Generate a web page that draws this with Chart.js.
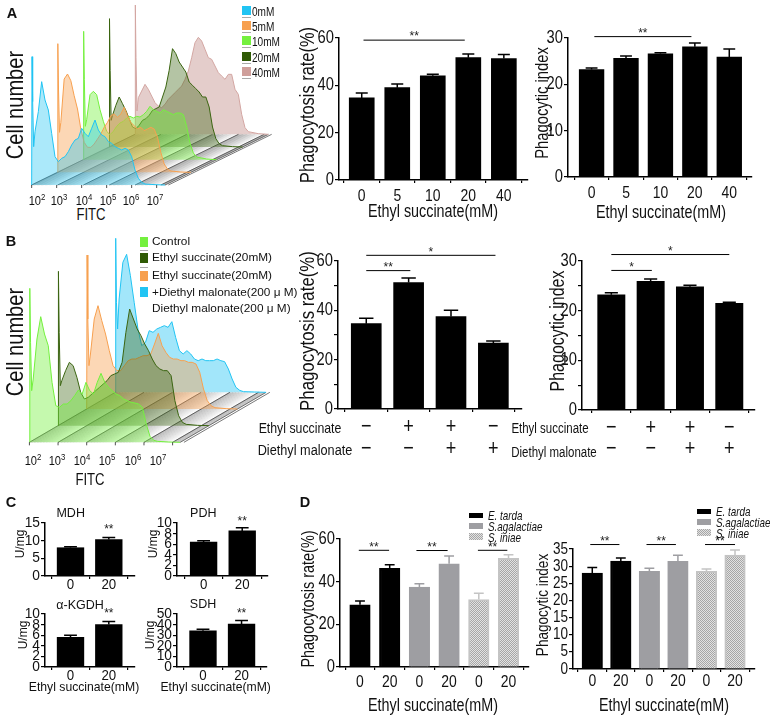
<!DOCTYPE html>
<html>
<head>
<meta charset="utf-8">
<script src="https://cdn.jsdelivr.net/npm/chart.js@4"></script>
<style>
html, body { margin: 0; padding: 0; background: #fff; }
body { position: relative; width: 770px; height: 717px; overflow: hidden; }
canvas { position: absolute; }
.t { position: absolute; white-space: nowrap; color: #111; line-height: 1; z-index: 5; }
.t sup { font-size: 70%; line-height: 0; }
.s { position: absolute; z-index: 5; }
</style>
</head>
<body>
<script>
// Panel A and B histograms: counts per channel, one list per layer
var histChannels = [0,1,3,6,10,20,30,40,50,60,70,80,90,100,110,120,130,140,150,160,170,180,190,200,210,220,230,240,250,260,270,280,290,300,310,320,330,340,370,400];

var histA0mM  = [0,385,250,115,160,220,310,255,225,155,85,70,80,85,100,120,135,140,170,155,145,170,195,165,150,145,130,125,115,110,105,110,105,85,45,20,8,3,1,0];
var histA5mM  = [0,386,250,120,150,280,295,275,230,190,130,90,75,75,85,100,115,135,150,170,175,165,175,195,170,150,140,130,135,125,130,135,130,105,60,25,10,4,1,0];
var histA10mM = [0,385,240,100,120,195,205,195,150,115,85,75,85,100,110,115,125,130,125,130,128,135,145,160,150,145,140,150,145,140,135,140,140,135,100,50,20,8,2,0];
var histA20mM = [0,385,230,80,95,125,150,130,110,85,60,55,65,80,85,95,110,115,120,150,180,230,295,280,255,240,225,195,185,175,165,150,150,120,60,25,10,4,1,0];
var histA40mM = [0,388,230,70,110,130,150,135,115,95,85,80,90,105,115,125,135,145,165,190,230,275,291,280,255,230,225,205,185,175,165,180,180,135,120,60,20,8,2,0];

var histBControl = [0,462,300,155,190,310,377,325,290,180,110,105,115,115,125,140,157,145,180,155,145,180,207,180,165,155,145,140,130,125,120,118,115,105,55,18,6,3,1,0];
var histBEthyl   = [0,463,280,120,135,165,190,180,145,100,80,85,95,105,115,125,135,150,155,160,190,280,350,320,290,270,245,225,200,180,170,165,165,150,75,30,10,4,1,0];
var histBBoth    = [0,462,270,130,165,270,310,265,225,175,130,115,115,130,145,150,150,155,160,160,165,195,227,190,170,155,150,150,145,145,140,140,135,110,60,25,10,4,1,0];
var histBMalon   = [0,462,270,190,280,390,414,350,270,190,140,150,185,180,190,195,200,195,212,165,125,115,125,115,100,95,100,95,95,95,100,95,92,70,40,15,6,2,1,0];

// Panel A bars
var doseLabels = ['0','5','10','20','40'];
var a1Rate = [34.7,39,44,51.7,51.3];
var a1RateTop = [36.8,40.6,44.7,53.2,53];
var a1Sig = [[0.05,2.9,59.1,'**']];
var a2Index = [23.2,25.6,26.6,28.1,25.9];
var a2IndexTop = [23.5,26.1,26.8,28.9,27.6];
var a2Sig = [[0.08,2.9,30.3,'**']];

// Panel B bars
var ethylSigns = ['\u2212','+','+','\u2212'];
var malonSigns = ['\u2212','\u2212','+','+'];
var b1Rate = [34.6,51.3,37.5,26.7];
var b1RateTop = [36.8,53.1,40,27.6];
var b1Sig = [[0,3.05,62.3,'*'],[0,1.04,56.1,'**']];
var b2Index = [23.2,25.9,24.8,21.5];
var b2IndexTop = [23.6,26.4,25.1,21.7];
var b2Sig = [[0,3,31.3,'*'],[0,1.03,28.1,'*']];

// Panel C bars
var enzymeLabels = ['0','20'];
var mdh = [8,10.3];
var mdhTop = [8.3,10.9];
var mdhSig = [[1,1,13.2,'**']];
var pdh = [6.4,8.5];
var pdhTop = [6.65,9.1];
var pdhSig = [[1,1,10.2,'**']];
var kgdh = [5.6,8];
var kgdhTop = [6,8.6];
var kgdhSig = [[1,1,10,'**']];
var sdh = [34.2,40.4];
var sdhTop = [35.7,43.8];
var sdhSig = [[1,1,50,'**']];

// Panel D bars
var strainLabels = ['0','20','0','20','0','20'];
var d1Rate = [29.2,46.3,37.5,48.4,31.6,50.9];
var d1RateTop = [30.9,47.9,39,52,34.6,52.6];
var d1Sig = [[-0.04,0.98,54.7,'**'],[1.9,2.95,54.6,'**'],[3.97,4.96,54.7,'**']];
var d2Index = [28,31.5,28.5,31.4,28.5,33.2];
var d2IndexTop = [29.6,32.4,29.4,33.2,29.2,34.7];
var d2Sig = [[-0.07,0.95,36.3,'**'],[1.9,2.93,36.3,'**'],[3.95,5,36.3,'**']];

var ARIAL = '"Liberation Sans", Arial, sans-serif';
var NARROW_K = 0.82; // the figure's labels are a condensed Helvetica

Chart.defaults.animation = false;
Chart.defaults.responsive = false;
Chart.defaults.plugins.legend.display = false;
Chart.defaults.plugins.tooltip.enabled = false;

function addText(str, x, y, size, opts) {
    opts = opts || {};
    var k = opts.k || 1;
    var el = document.createElement('div');
    el.className = 't';
    el.innerHTML = str;
    el.style.left = x + 'px';
    el.style.top = y + 'px';
    el.style.fontSize = size + 'px';
    el.style.fontFamily = ARIAL;
    if (opts.bold) el.style.fontWeight = 'bold';
    if (opts.italic) el.style.fontStyle = 'italic';
    if (opts.rot) {
        el.style.transform = 'translate(-50%,-50%) rotate(-90deg) scaleX(' + k + ')';
    } else if (opts.left) {
        el.style.transformOrigin = 'left center';
        el.style.transform = 'translate(0,-50%) scaleX(' + k + ')';
    } else {
        el.style.transform = 'translate(-50%,-50%) scaleX(' + k + ')';
    }
    document.body.appendChild(el);
}

function addBox(x, y, w, h, bg) {
    var el = document.createElement('div');
    el.className = 's';
    el.style.left = x + 'px';
    el.style.top = y + 'px';
    el.style.width = w + 'px';
    el.style.height = h + 'px';
    el.style.background = bg;
    document.body.appendChild(el);
}

function addCanvas(left, top, width, height) {
    var c = document.createElement('canvas');
    c.width = width;
    c.height = height;
    c.style.left = left + 'px';
    c.style.top = top + 'px';
    document.body.appendChild(c);
    return c;
}

// speckle for the S. iniae bars
var hatchCanvas = document.createElement('canvas');
hatchCanvas.width = 2;
hatchCanvas.height = 2;
var hctx = hatchCanvas.getContext('2d');
hctx.fillStyle = '#e2e2e2';
hctx.fillRect(0, 0, 2, 2);
hctx.fillStyle = '#a6a6a6';
hctx.fillRect(0, 0, 1, 1);
hctx.fillRect(1, 1, 1, 1);
var hatch = hctx.createPattern(hatchCanvas, 'repeat');

var errorBars = {
    id: 'errorBars',
    afterDatasetsDraw: function (chart) {
        var ds = chart.data.datasets[0];
        var meta = chart.getDatasetMeta(0);
        var y = chart.scales.y;
        var ctx = chart.ctx;
        ctx.save();
        ctx.lineWidth = 1.5;
        meta.data.forEach(function (bar, i) {
            var top = y.getPixelForValue(ds.errTop[i]);
            var half = bar.width * 0.24;
            ctx.strokeStyle = ds.errColor[i];
            ctx.beginPath();
            ctx.moveTo(bar.x, bar.y);
            ctx.lineTo(bar.x, top);
            ctx.moveTo(bar.x - half, top);
            ctx.lineTo(bar.x + half, top);
            ctx.stroke();
        });
        ctx.restore();
    }
};

var sigMarks = {
    id: 'sigMarks',
    afterDraw: function (chart) {
        var sig = chart.options.plugins.sigMarks.items || [];
        var x = chart.scales.x, y = chart.scales.y, ctx = chart.ctx;
        ctx.save();
        ctx.strokeStyle = '#000';
        ctx.fillStyle = '#222';
        ctx.lineWidth = 1;
        ctx.textAlign = 'center';
        ctx.textBaseline = 'middle';
        ctx.font = '12px ' + ARIAL;
        sig.forEach(function (s) {
            var py = y.getPixelForValue(s[2]);
            if (s[0] !== s[1]) {
                ctx.beginPath();
                ctx.moveTo(x.getPixelForValue(s[0]), py);
                ctx.lineTo(x.getPixelForValue(s[1]), py);
                ctx.stroke();
                ctx.fillText(s[3], (x.getPixelForValue(s[0]) + x.getPixelForValue(s[1])) / 2, py - 3);
            } else {
                ctx.fillText(s[3], x.getPixelForValue(s[0]), py);
            }
        });
        ctx.restore();
    }
};

// tick labels squeezed sideways, there is no condensed font to hand
var squeezedTicks = {
    id: 'squeezedTicks',
    afterDraw: function (chart) {
        var o = chart.options.plugins.squeezedTicks;
        var x = chart.scales.x, y = chart.scales.y, ctx = chart.ctx;
        ctx.save();
        ctx.fillStyle = '#111';
        ctx.textBaseline = 'middle';
        ctx.textAlign = 'center';
        ctx.font = o.xFont + 'px ' + ARIAL;
        x.ticks.forEach(function (t) {
            var lines = [].concat(o.labels[t.value]);
            lines.forEach(function (line, n) {
                ctx.save();
                ctx.translate(x.getPixelForValue(t.value), x.bottom - x.height + o.xGap + n * o.xRow);
                ctx.scale(o.k, 1);
                ctx.fillText(line, 0, 0);
                ctx.restore();
            });
        });
        ctx.textAlign = 'right';
        ctx.font = o.yFont + 'px ' + ARIAL;
        y.ticks.forEach(function (t) {
            if (t.value % o.yLabelStep !== 0) return;
            ctx.save();
            ctx.translate(y.right - 5, y.getPixelForValue(t.value));
            ctx.scale(o.k, 1);
            ctx.fillText(String(t.value), 0, 0);
            ctx.restore();
        });
        ctx.restore();
    }
};

function barPanel(p) {
    var leftRoom = 40, topRoom = 24, bottomRoom = p.bottomRoom || 30, rightRoom = 6;
    var c = addCanvas(p.axisX - leftRoom, p.top - topRoom,
        p.right - p.axisX + leftRoom + rightRoom, p.bottom - p.top + topRoom + bottomRoom);
    var colors = p.colors || p.values.map(function () { return '#000'; });
    var edges = p.edges || colors;
    new Chart(c, {
        type: 'bar',
        data: {
            datasets: [{
                data: p.values.map(function (v, i) { return { x: i, y: v }; }),
                errTop: p.tops,
                errColor: p.errColors || colors,
                backgroundColor: colors,
                borderColor: edges,
                borderWidth: p.colors ? 2 : 0,
                barThickness: p.barWidth
            }]
        },
        plugins: [errorBars, sigMarks, squeezedTicks],
        options: {
            layout: { padding: { top: topRoom, right: rightRoom, left: 0, bottom: 0 } },
            plugins: {
                sigMarks: { items: p.sig },
                squeezedTicks: {
                    labels: p.labels, k: p.k || 1, xFont: p.xFont, yFont: p.yFont,
                    xGap: p.xGap || 16, xRow: p.xRow || 0, yLabelStep: p.yLabelStep
                }
            },
            scales: {
                x: {
                    type: 'linear',
                    offset: false,
                    min: p.xMin,
                    max: p.xMax,
                    afterBuildTicks: function (scale) {
                        scale.ticks = p.labels.map(function (l, i) { return { value: i }; });
                    },
                    afterFit: function (scale) { scale.height = bottomRoom; },
                    grid: { drawOnChartArea: false, color: '#000', tickLength: 3, lineWidth: 1.2 },
                    border: { color: '#000', width: 1.5 },
                    ticks: { display: false }
                },
                y: {
                    min: 0,
                    max: p.yMax,
                    afterBuildTicks: function (scale) {
                        var t = [];
                        for (var v = 0; v <= p.yMax; v += p.yStep) t.push({ value: v });
                        scale.ticks = t;
                    },
                    afterFit: function (scale) { scale.width = leftRoom; },
                    grid: { drawOnChartArea: false, color: '#000', tickLength: 4, lineWidth: 1.2 },
                    border: { color: '#000', width: 1.5 },
                    ticks: { display: false }
                }
            }
        }
    });
}

function histPanel(p) {
    var c = addCanvas(p.left, p.top, p.width, p.height);
    var sets = p.layers.map(function (layer, n) {
        return {
            data: histChannels.map(function (ch, i) {
                return { x: ch + n * p.dx, y: layer.counts[i] + n * p.dy };
            }),
            showLine: true,
            pointRadius: 0,
            borderWidth: 1,
            borderColor: layer.line,
            backgroundColor: layer.fill,
            fill: { value: n * p.dy },
            tension: 0,
            order: n
        };
    });
    var floor = {
        id: 'floor',
        beforeDatasetsDraw: function (chart) {
            var x = chart.scales.x, y = chart.scales.y, ctx = chart.ctx;
            var n = p.layers.length - 1;
            var lastCh = histChannels[histChannels.length - 1];
            ctx.save();
            function rail(ch, color, w) {
                ctx.strokeStyle = color;
                ctx.lineWidth = w;
                ctx.beginPath();
                ctx.moveTo(x.getPixelForValue(ch), y.getPixelForValue(0));
                ctx.lineTo(x.getPixelForValue(ch + n * p.dx), y.getPixelForValue(n * p.dy));
                ctx.stroke();
            }
            // grey fades to white across each strip of the floor
            for (var ch = 0; ch <= lastCh; ch += 4) {
                var frac = (ch % p.dx) / p.dx;
                rail(ch, 'rgba(110,110,110,' + (0.75 * (1 - frac)).toFixed(2) + ')', 0.6);
            }
            for (var d = 0; d <= lastCh; d += p.dx) rail(d, '#333', 0.7);
            rail(lastCh, '#555', 0.8);
            rail(lastCh + 10, '#555', 0.8);
            ctx.restore();
        },
        afterDraw: function (chart) {
            var x = chart.scales.x, y = chart.scales.y, ctx = chart.ctx;
            var base = y.getPixelForValue(0);
            ctx.save();
            ctx.strokeStyle = '#222';
            ctx.lineWidth = 0.8;
            p.ticks.forEach(function (ch) {
                ctx.beginPath();
                ctx.moveTo(x.getPixelForValue(ch), base);
                ctx.lineTo(x.getPixelForValue(ch), base + 3);
                ctx.stroke();
            });
            ctx.restore();
        }
    };
    new Chart(c, {
        type: 'scatter',
        data: { datasets: sets },
        plugins: [floor],
        options: {
            layout: { padding: 0 },
            scales: {
                x: { type: 'linear', display: false, min: p.xMin, max: p.xMax },
                y: { type: 'linear', display: false, min: p.yMin, max: p.yMax }
            }
        }
    });
}

var K = NARROW_K;

// ---------- Panel A ----------
var BLUE = '#21c4f3', ORANGE = '#f7a04f', LIME = '#74f03e', DARK = '#3a6410', BROWN = '#d3a6a2';
function layer(counts, line, fill) { return { counts: counts, line: line, fill: fill }; }

histPanel({
    left: 20, top: 0, width: 260, height: 200,
    xMin: -35, xMax: 745, yMin: -45, yMax: 555, dx: 77.5, dy: 38,
    ticks: [0, 75, 150, 225, 300, 375],
    layers: [
        layer(histA0mM, BLUE, 'rgba(33,196,243,0.38)'),
        layer(histA5mM, ORANGE, 'rgba(247,160,79,0.42)'),
        layer(histA10mM, LIME, 'rgba(116,240,62,0.42)'),
        layer(histA20mM, DARK, 'rgba(58,100,16,0.38)'),
        layer(histA40mM, BROWN, 'rgba(190,135,130,0.42)')
    ]
});
addText('Cell number', 15, 105, 24.5, { rot: true, k: K });
addText('FITC', 91, 215, 16, { k: K });
[['2',36.7],['3',59.3],['4',84],['5',108.3],['6',130.7],['7',155]].forEach(function (d) {
    addText('10<sup>' + d[0] + '</sup>', d[1], 201, 13.5, { k: K });
});
addText('A', 12, 13, 14.5, { bold: true });

[['0mM',BLUE,6,12],['5mM',ORANGE,21,27],['10mM',LIME,36,42],['20mM','#2f5a05',52,58],['40mM','#cf9f9b',67,73]].forEach(function (r) {
    addBox(242, r[2], 8.5, 9, r[1]);
    addBox(242, r[2] + 11, 8.5, 1, '#aaa');
    addText(r[0], 252, r[3], 12, { left: true, k: 0.84 });
});

barPanel({
    axisX: 338.7, top: 37.7, bottom: 180, right: 528,
    xMin: -0.64, xMax: 4.68, yMax: 60, yStep: 20, yLabelStep: 20,
    labels: doseLabels, values: a1Rate, tops: a1RateTop, sig: a1Sig,
    barWidth: 25, xFont: 17, yFont: 18, k: K, xGap: 16.7
});
addText('Phagocytosis rate(%)', 306.7, 105, 20, { rot: true, k: K });
addText('Ethyl succinate(mM)', 433, 212, 17.5, { k: K });

barPanel({
    axisX: 568.3, top: 37.7, bottom: 177.3, right: 753,
    xMin: -0.685, xMax: 4.66, yMax: 30, yStep: 10, yLabelStep: 10,
    labels: doseLabels, values: a2Index, tops: a2IndexTop, sig: a2Sig,
    barWidth: 24.7, xFont: 17, yFont: 18, k: K, xGap: 16
});
addText('Phagocytic index', 542, 103, 18, { rot: true, k: K });
addText('Ethyl succinate(mM)', 661, 213, 17.5, { k: K });

// ---------- Panel B ----------
histPanel({
    left: 20, top: 225, width: 260, height: 250,
    xMin: -25, xMax: 665, yMin: -98, yMax: 652, dx: 76, dy: 50,
    ticks: [0, 76, 152, 228, 304, 380],
    layers: [
        layer(histBControl, LIME, 'rgba(116,240,62,0.42)'),
        layer(histBEthyl, DARK, 'rgba(58,100,16,0.38)'),
        layer(histBBoth, ORANGE, 'rgba(247,160,79,0.42)'),
        layer(histBMalon, BLUE, 'rgba(33,196,243,0.42)')
    ]
});
addText('Cell number', 15, 342, 24.5, { rot: true, k: K });
addText('FITC', 90, 480, 16, { k: K });
[['2',33],['3',57],['4',82],['5',107],['6',133],['7',158]].forEach(function (d) {
    addText('10<sup>' + d[0] + '</sup>', d[1], 461, 13.5, { k: K });
});
addText('B', 11, 241, 14.5, { bold: true });

addBox(139.5, 237, 8.5, 10, LIME);
addBox(139.5, 253, 8.5, 10, '#2f5a05');
addBox(139.5, 271, 8.5, 10, ORANGE);
addBox(139.5, 287, 8.5, 10, BLUE);
addBox(139.5, 249.5, 8.5, 1, '#aaa');
addBox(139.5, 267, 8.5, 1, '#aaa');
addText('Control', 152, 242, 11.8, { left: true });
addText('Ethyl succinate(20mM)', 152, 258, 11.8, { left: true });
addText('Ethyl succinate(20mM)', 152, 276, 11.8, { left: true });
addText('+Diethyl malonate(200 \u03bc M)', 152, 293, 11.8, { left: true });
addText('Diethyl malonate(200 \u03bc M)', 152, 309, 11.8, { left: true });

var signLabels = ethylSigns.map(function (e, i) { return [e, malonSigns[i]]; });

barPanel({
    axisX: 338.3, top: 261, bottom: 409.3, right: 523.3,
    xMin: -0.667, xMax: 3.676, yMax: 60, yStep: 10, yLabelStep: 20,
    labels: signLabels, values: b1Rate, tops: b1RateTop, sig: b1Sig,
    barWidth: 30, xFont: 22, yFont: 18, k: K, bottomRoom: 58, xGap: 18, xRow: 22
});
addText('Phagocytosis rate(%)', 306.7, 330.6, 20.5, { rot: true, k: K });
addText('Ethyl succinate', 299.5, 427, 15, { k: K });
addText('Diethyl malonate', 304.5, 450, 15.5, { k: K });

barPanel({
    axisX: 582.3, top: 261, bottom: 410.7, right: 755.7,
    xMin: -0.746, xMax: 3.654, yMax: 30, yStep: 5, yLabelStep: 10,
    labels: signLabels, values: b2Index, tops: b2IndexTop, sig: b2Sig,
    barWidth: 27.3, xFont: 22, yFont: 18, k: K, bottomRoom: 58, xGap: 17.6, xRow: 21.7
});
addText('Phagocytic index', 558, 331, 19.5, { rot: true, k: K });
addText('Ethyl succinate', 549.7, 428, 14, { k: K });
addText('Diethyl malonate', 554, 452, 14, { k: K });

// ---------- Panel C ----------
addText('C', 11, 502, 14.5, { bold: true });
var enzymeOpts = { labels: enzymeLabels, barWidth: 26.7, xFont: 14, yFont: 14.5, xGap: 8.7, k: 0.95 };
function enzyme(extra) {
    var o = {};
    for (var k in enzymeOpts) o[k] = enzymeOpts[k];
    for (var j in extra) o[j] = extra[j];
    barPanel(o);
}
enzyme({ axisX: 45, top: 522.7, bottom: 576.3, right: 135.7, xMin: -0.666, xMax: 1.684,
    yMax: 15, yStep: 5, yLabelStep: 5, values: mdh, tops: mdhTop, sig: mdhSig });
enzyme({ axisX: 176.7, top: 522.7, bottom: 576.3, right: 267.7, xMin: -0.689, xMax: 1.668,
    yMax: 10, yStep: 2, yLabelStep: 2, values: pdh, tops: pdhTop, sig: pdhSig });
enzyme({ axisX: 45, top: 614, bottom: 667.7, right: 135.7, xMin: -0.666, xMax: 1.684,
    yMax: 10, yStep: 2, yLabelStep: 2, values: kgdh, tops: kgdhTop, sig: kgdhSig });
enzyme({ axisX: 176.7, top: 614, bottom: 667.7, right: 266.7, xMin: -0.674, xMax: 1.66,
    yMax: 50, yStep: 10, yLabelStep: 10, values: sdh, tops: sdhTop, sig: sdhSig });
addText('MDH', 70.7, 513, 12.5);
addText('PDH', 203.3, 513, 12.5);
addText('\u03b1-KGDH', 80, 605, 12.5);
addText('SDH', 203, 604, 12.5);
addText('U/mg', 20, 544, 12, { rot: true });
addText('U/mg', 153, 544, 12, { rot: true });
addText('U/mg', 23, 635, 12, { rot: true });
addText('U/mg', 150, 635, 12, { rot: true });
addText('Ethyl succinate(mM)', 84, 687.3, 12.2);
addText('Ethyl succinate(mM)', 215.7, 687.3, 12.2);

// ---------- Panel D ----------
addText('D', 305, 502, 14.5, { bold: true });
var GRAY = '#9e9ea2', HATCH_EDGE = '#c4c4c4';
var strainColors = ['#000', '#000', GRAY, GRAY, hatch, hatch];
var strainEdges = ['#000', '#000', GRAY, GRAY, HATCH_EDGE, HATCH_EDGE];
var strainErr = ['#000', '#000', GRAY, GRAY, HATCH_EDGE, HATCH_EDGE];

barPanel({
    axisX: 340, top: 538.7, bottom: 666.7, right: 529,
    xMin: -0.673, xMax: 5.69, yMax: 60, yStep: 20, yLabelStep: 20,
    labels: strainLabels, values: d1Rate, tops: d1RateTop, sig: d1Sig,
    colors: strainColors, edges: strainEdges, errColors: strainErr,
    barWidth: 20.5, xFont: 17, yFont: 18, k: K, xGap: 15
});
addText('Phagocytosis rate(%)', 309, 598.6, 17.6, { rot: true, k: K });
addText('Ethyl succinate(mM)', 433, 706, 17.5, { k: K });

barPanel({
    axisX: 572.7, top: 549.3, bottom: 670, right: 755,
    xMin: -0.675, xMax: 5.7, yMax: 35, yStep: 5, yLabelStep: 5,
    labels: strainLabels, values: d2Index, tops: d2IndexTop, sig: d2Sig,
    colors: strainColors, edges: strainEdges, errColors: strainErr,
    barWidth: 20.5, xFont: 17, yFont: 16.5, k: K, xGap: 12.3
});
addText('Phagocytic index', 542, 605, 16.5, { rot: true, k: K });
addText('Ethyl succinate(mM)', 664, 706, 17.5, { k: K });

var hatchUrl = 'url(' + hatchCanvas.toDataURL() + ')';
[[469, 515, 525.7, 536.7], [697, 511, 521.5, 532.5]].forEach(function (g) {
    addBox(g[0], g[1] - 2, 14, 4.5, '#000');
    addBox(g[0], g[2] - 2.5, 14, 5.5, GRAY);
    addBox(g[0], g[3] - 3.5, 14, 7, hatchUrl);
    addText('E. tarda', g[0] + 19, g[1], 13, { italic: true, left: true, k: 0.76 });
    addText('S.agalactiae', g[0] + 19, g[2], 13, { italic: true, left: true, k: 0.76 });
    addText('S. iniae', g[0] + 19, g[3], 13, { italic: true, left: true, k: 0.76 });
});
</script>
</body>
</html>
